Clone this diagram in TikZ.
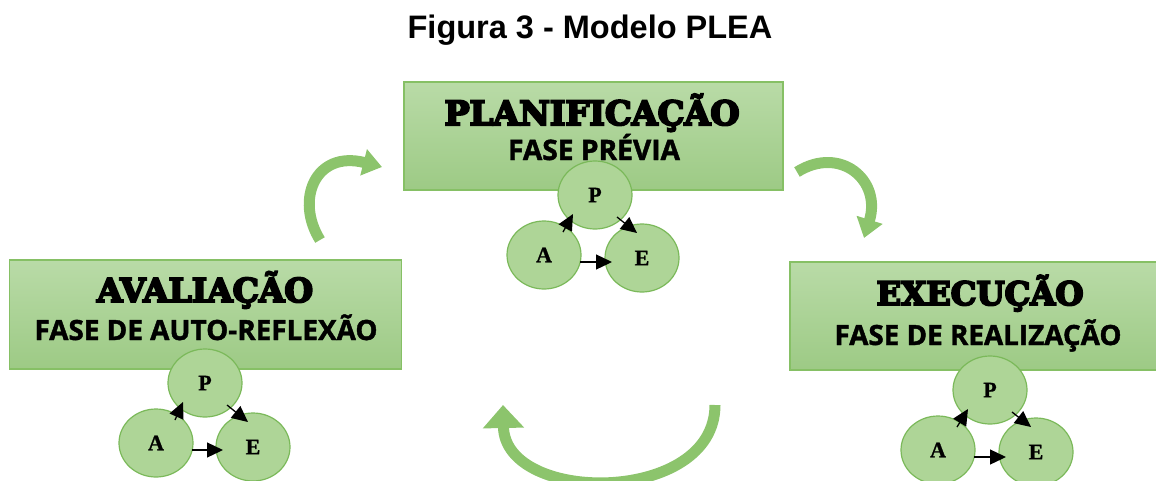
\documentclass[tikz,border=0pt]{standalone}
\usepackage{fontspec}
\usetikzlibrary{shapes.geometric,arrows.meta,calc}
\newfontfamily\titlefont{Liberation Sans}
\newfontfamily\headfont[FakeBold=6]{DejaVu Serif Bold}
\newfontfamily\subfont[FakeBold=1.5]{Open Sans Bold}
\newfontfamily\circfont[FakeBold=1.2]{Liberation Serif Bold}
\definecolor{boxtop}{HTML}{B9DBA7}
\definecolor{boxbot}{HTML}{9DCA85}
\definecolor{boxline}{HTML}{86C065}
\definecolor{circfill}{HTML}{AED597}
\definecolor{circline}{HTML}{7BB95A}
\definecolor{bigarr}{HTML}{8CC46C}
\newcommand{\headtxt}[2]{\resizebox{#1}{!}{\headfont #2}}
\newcommand{\subtxt}[2]{\resizebox{#1}{!}{\subfont #2}}
\newcommand{\circtxt}[1]{{\circfont\fontsize{22}{22}\selectfont #1}}
\begin{document}
\begin{tikzpicture}[x=1pt,y=-1pt,
  phasebox/.style={draw=boxline, line width=1.5pt, top color=boxtop, bottom color=boxbot, inner sep=0pt},
  headlbl/.style={anchor=base, inner sep=0pt},
  sublbl/.style={anchor=base, inner sep=0pt},
  circ/.style={ellipse, draw=circline, line width=1.2pt, fill=circfill, minimum width=74pt, minimum height=68pt, inner sep=0pt},
  pae/.style={-{Triangle[length=16pt,width=15pt]}, line width=1.3pt, black},
  bigarrow/.style={line width=11pt, draw=bigarr, -{Triangle[length=19pt,width=26pt]}},
  bigarrowb/.style={line width=11pt, draw=bigarr, -{Triangle[length=23pt,width=40pt]}}
]
\useasboundingbox (0,0) rectangle (1156,480);

% title
\node[anchor=base, inner sep=0pt, font=\titlefont\bfseries\fontsize{32.5}{32.5}\selectfont] (title) at (590,38) {Figura 3 - Modelo PLEA};

% boxes
\node[phasebox, minimum width=379pt, minimum height=108pt] (boxP) at (593.5,136) {};
\node[phasebox, minimum width=392pt, minimum height=109pt] (boxA) at (205.5,314.5) {};
\node[phasebox, minimum width=380pt, minimum height=108pt] (boxE) at (980,316) {};

% headings
\node[headlbl] (hP) at (592,125) {\headtxt{295pt}{PLANIFICAÇÃO}};
\node[sublbl] (sP) at (594,160) {\subtxt{172pt}{FASE PRÉVIA}};
\node[headlbl] (hA) at (205,302) {\headtxt{216pt}{AVALIAÇÃO}};
\node[sublbl] (sA) at (206,340) {\subtxt{343pt}{FASE DE AUTO-REFLEXÃO}};
\node[headlbl] (hE) at (980,305) {\headtxt{207pt}{EXECUÇÃO}};
\node[sublbl] (sE) at (978,345) {\subtxt{287pt}{FASE DE REALIZAÇÃO}};

% circles top
\node[circ] (P1) at (595,195) {\circtxt{P}};
\node[circ] (A1) at (544,255) {\circtxt{A}};
\node[circ] (E1) at (642,258) {\circtxt{E}};
% circles left
\node[circ] (P2) at (205,383) {\circtxt{P}};
\node[circ] (A2) at (156,443) {\circtxt{A}};
\node[circ] (E2) at (253,447) {\circtxt{E}};
% circles right
\node[circ] (P3) at (990,390) {\circtxt{P}};
\node[circ] (A3) at (938,450) {\circtxt{A}};
\node[circ] (E3) at (1036,452) {\circtxt{E}};

% small arrows
\foreach \p/\a/\e in {P1/A1/E1, P2/A2/E2, P3/A3/E3}{
  \draw[pae] ($(\a)+(19,-23)$) -- ($(\p)+(-22,19)$);
  \draw[pae] ($(\p)+(22,22)$) -- ($(\e)+(-5,-25)$);
  \coordinate (t) at ($(\a)+(36,7)$);
  \coordinate (h) at ($(\e)+(-30,0)$);
  \draw[pae] (t) -- (t -| h);
}

% big curved arrows
\coordinate (c1s) at (320,240);
\coordinate (c1e) at (382,167);
\draw[bigarrow] (c1s) .. controls (295,200) and (315,150) .. (c1e);
\coordinate (c2s) at (797,172);
\coordinate (c2e) at (864,238);
\draw[bigarrow] (c2s) .. controls (840,145) and (882,180) .. (c2e);
\coordinate (c3s) at (715,405);
\coordinate (c3e) at (503,405);
\draw[bigarrowb] (c3s) .. controls (715,505) and (505,505) .. (c3e);
\end{tikzpicture}
\end{document}
